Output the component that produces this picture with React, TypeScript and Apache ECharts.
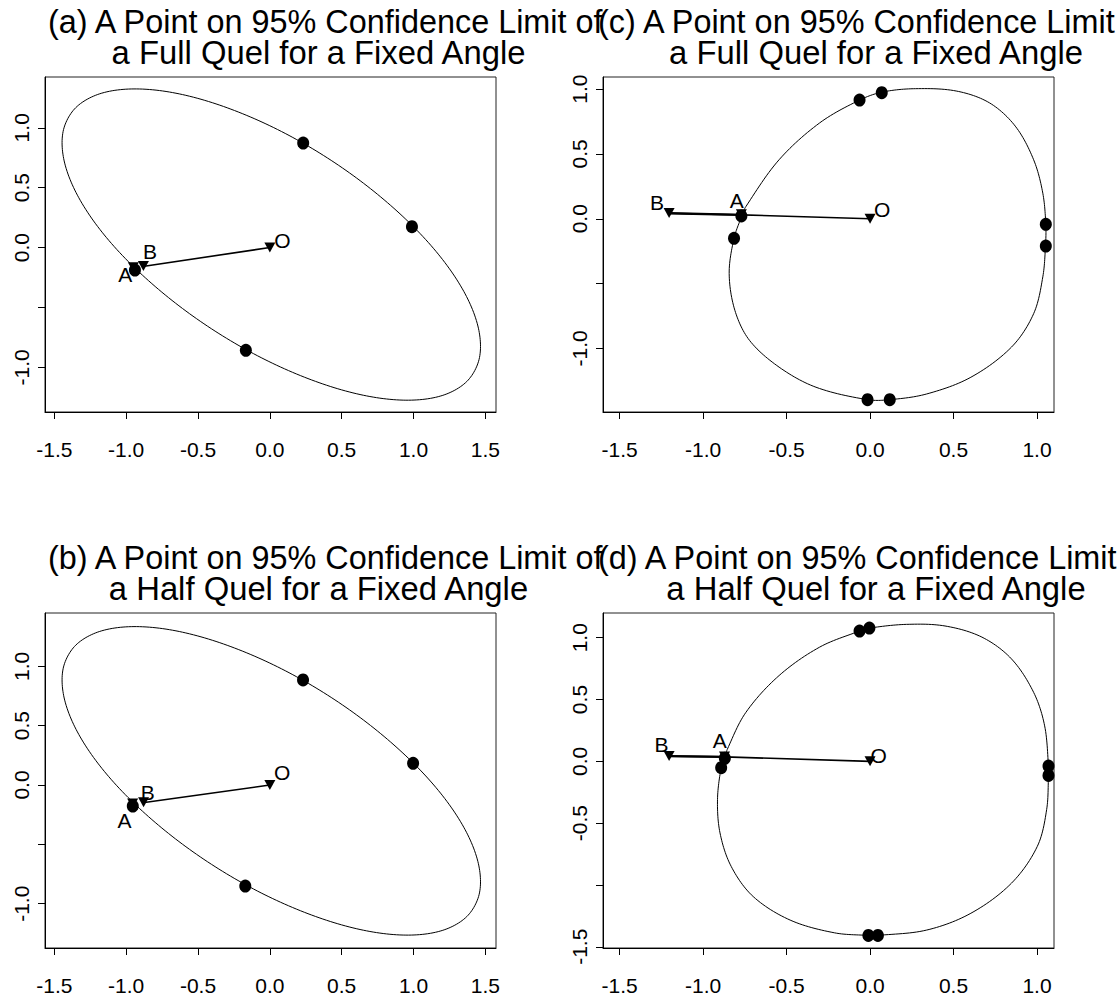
import React, { useEffect, useRef } from "react";
import * as echarts from "echarts";

type Pt = [number, number];

// ---------- data ----------
const xTicksAB = [-1.5, -1.0, -0.5, 0.0, 0.5, 1.0, 1.5];
const xLabelsAB = [-1.5, -1.0, -0.5, 0.0, 0.5, 1.0, 1.5];
const xTicksCD = [-1.5, -1.0, -0.5, 0.0, 0.5, 1.0];
const xLabelsCD = [-1.5, -1.0, -0.5, 0.0, 0.5, 1.0];
const yTicksA = [-1.0, -0.5, 0.0, 0.5, 1.0];
const yLabelsA = [-1.0, 0.0, 0.5, 1.0];
const yTicksC = [-1.0, -0.5, 0.0, 0.5, 1.0];
const yLabelsC = [-1.0, 0.0, 0.5, 1.0];
const yTicksD = [-1.5, -1.0, -0.5, 0.0, 0.5, 1.0];
const yLabelsD = [-1.5, -0.5, 0.0, 0.5, 1.0];

const titlesTop = ["(a) A Point on 95% Confidence Limit of", "a Full Quel for a Fixed Angle"];
const titlesTopRight = ["(c) A Point on 95% Confidence Limit of", "a Full Quel for a Fixed Angle"];
const titlesBottom = ["(b) A Point on 95% Confidence Limit of", "a Half Quel for a Fixed Angle"];
const titlesBottomRight = ["(d) A Point on 95% Confidence Limit of", "a Half Quel for a Fixed Angle"];

// closed confidence-limit curves (points read along each loop)
const curveA: Pt[] = [
  [1.371, -1.118], [1.459, -0.919], [1.448, -0.655], [1.34, -0.345], [1.141, -0.01],
  [0.864, 0.327], [0.53, 0.644], [0.16, 0.919], [-0.22, 1.132], [-0.585, 1.271],
  [-0.908, 1.324], [-1.17, 1.289], [-1.351, 1.168], [-1.439, 0.969], [-1.428, 0.705],
  [-1.32, 0.395], [-1.121, 0.06], [-0.844, -0.277], [-0.51, -0.594], [-0.14, -0.869],
  [0.24, -1.082], [0.605, -1.221], [0.928, -1.274], [1.19, -1.239],
];
const dotsA: Pt[] = [[0.232, 0.872], [0.989, 0.174], [-0.167, -0.858], [-0.939, -0.188]];
const trianglesA: Pt[] = [[0, 0], [-0.88, -0.155], [-0.95, -0.165]];
const segmentA: Pt[] = [[0, 0], [-0.885, -0.158]];
const pointNamesA = ["A", "B", "O"];
const labelPosA: Pt[] = [[-1.007, -0.222], [-0.835, -0.032], [0.087, 0.06]];

const curveB: Pt[] = [
  [1.371, -1.108], [1.459, -0.909], [1.448, -0.645], [1.34, -0.335], [1.141, 0.0],
  [0.864, 0.337], [0.53, 0.654], [0.16, 0.929], [-0.22, 1.142], [-0.585, 1.281],
  [-0.908, 1.334], [-1.17, 1.299], [-1.351, 1.178], [-1.439, 0.979], [-1.428, 0.715],
  [-1.32, 0.405], [-1.121, 0.07], [-0.844, -0.267], [-0.51, -0.584], [-0.14, -0.859],
  [0.24, -1.072], [0.605, -1.211], [0.928, -1.264], [1.19, -1.229],
];
const dotsB: Pt[] = [[0.231, 0.885], [0.997, 0.183], [-0.171, -0.851], [-0.954, -0.177]];
const trianglesB: Pt[] = [[0, 0], [-0.879, -0.145], [-0.955, -0.155]];
const segmentB: Pt[] = [[0, 0], [-0.885, -0.15]];
const pointNamesB = ["A", "B", "O"];
const labelPosB: Pt[] = [[-1.012, -0.295], [-0.849, -0.062], [0.085, 0.104]];

const curveC: Pt[] = [
  [0.273, 1.003], [0.516, 0.985], [0.715, 0.894], [0.87, 0.714], [0.98, 0.455],
  [1.035, 0.197], [1.053, -0.048], [1.051, -0.21], [1.035, -0.448], [0.98, -0.732],
  [0.847, -0.99], [0.604, -1.222], [0.339, -1.351], [0.118, -1.395], [-0.015, -1.395],
  [-0.324, -1.299], [-0.545, -1.144], [-0.722, -0.938], [-0.81, -0.706], [-0.844, -0.422],
  [-0.815, -0.151], [-0.768, 0.022], [-0.744, 0.094], [-0.545, 0.455], [-0.302, 0.739],
  [-0.063, 0.915], [0.074, 0.977],
];
const dotsC: Pt[] = [
  [0.07, 0.972], [-0.063, 0.915], [-0.771, 0.022], [-0.815, -0.151],
  [-0.015, -1.395], [0.118, -1.395], [1.053, -0.043], [1.053, -0.211],
];
const trianglesC: Pt[] = [[0, 0], [-1.204, 0.044], [-0.771, 0.035]];
const segmentC: Pt[] = [[0, 0], [-0.771, 0.03], [-1.204, 0.042]];
const pointNamesC = ["B", "A", "O"];
const labelPosC: Pt[] = [[-1.277, 0.125], [-0.799, 0.141], [0.072, 0.068]];

const curveD: Pt[] = [
  [0.218, 1.108], [0.449, 1.095], [0.67, 1.005], [0.847, 0.829], [0.98, 0.558],
  [1.046, 0.287], [1.069, -0.038], [1.069, -0.114], [1.058, -0.39], [1.002, -0.688],
  [0.847, -0.986], [0.604, -1.229], [0.339, -1.365], [0.047, -1.408], [-0.01, -1.408],
  [-0.214, -1.387], [-0.479, -1.284], [-0.7, -1.094], [-0.832, -0.85], [-0.899, -0.579],
  [-0.914, -0.309], [-0.892, -0.051], [-0.87, 0.025], [-0.855, 0.098], [-0.744, 0.396],
  [-0.545, 0.694], [-0.302, 0.924], [-0.063, 1.054], [-0.004, 1.078],
];
const dotsD: Pt[] = [
  [-0.004, 1.078], [-0.063, 1.054], [-0.87, 0.025], [-0.892, -0.051],
  [-0.01, -1.408], [0.047, -1.408], [1.069, -0.114], [1.069, -0.038],
];
const trianglesD: Pt[] = [[0, 0], [-1.204, 0.044], [-0.872, 0.04]];
const segmentD: Pt[] = [[0, 0], [-0.872, 0.036], [-1.204, 0.042]];
const pointNamesD = ["B", "A", "O"];
const labelPosD: Pt[] = [[-1.25, 0.133], [-0.901, 0.166], [0.052, 0.044]];

// ---------- layout ----------
const FONT = "'Liberation Sans', Arial, Helvetica, sans-serif";

interface Panel {
  grid: { left: number; top: number; width: number; height: number };
  xMin: number; xMax: number; yMin: number; yMax: number;
  xTicks: number[]; xLabels: number[]; yTicks: number[]; yLabels: number[];
  curve: Pt[]; dots: Pt[]; triangles: Pt[]; segment: Pt[];
  names: string[]; labelPos: Pt[]; thickTail: boolean;
  titles: string[]; title1Left: number; title2Center: number; titleY: [number, number];
}

const panels: Panel[] = [
  {
    grid: { left: 45, top: 77, width: 451, height: 335 },
    xMin: -1.565, xMax: 1.574, yMin: -1.373, yMax: 1.424,
    xTicks: xTicksAB, xLabels: xLabelsAB, yTicks: yTicksA, yLabels: yLabelsA,
    curve: curveA, dots: dotsA, triangles: trianglesA, segment: segmentA,
    names: pointNamesA, labelPos: labelPosA, thickTail: false,
    titles: titlesTop, title1Left: 48, title2Center: 318.5, titleY: [22, 52],
  },
  {
    grid: { left: 603, top: 77, width: 451, height: 335 },
    xMin: -1.6, xMax: 1.102, yMin: -1.49, yMax: 1.093,
    xTicks: xTicksCD, xLabels: xLabelsCD, yTicks: yTicksC, yLabels: yLabelsC,
    curve: curveC, dots: dotsC, triangles: trianglesC, segment: segmentC,
    names: pointNamesC, labelPos: labelPosC, thickTail: true,
    titles: titlesTopRight, title1Left: 598, title2Center: 876, titleY: [22, 52],
  },
  {
    grid: { left: 45, top: 613, width: 451, height: 335 },
    xMin: -1.565, xMax: 1.574, yMin: -1.373, yMax: 1.449,
    xTicks: xTicksAB, xLabels: xLabelsAB, yTicks: yTicksA, yLabels: yLabelsA,
    curve: curveB, dots: dotsB, triangles: trianglesB, segment: segmentB,
    names: pointNamesB, labelPos: labelPosB, thickTail: false,
    titles: titlesBottom, title1Left: 48, title2Center: 318.5, titleY: [558, 588],
  },
  {
    grid: { left: 603, top: 613, width: 451, height: 335 },
    xMin: -1.6, xMax: 1.102, yMin: -1.51, yMax: 1.2,
    xTicks: xTicksCD, xLabels: xLabelsCD, yTicks: yTicksD, yLabels: yLabelsD,
    curve: curveD, dots: dotsD, triangles: trianglesD, segment: segmentD,
    names: pointNamesD, labelPos: labelPosD, thickTail: true,
    titles: titlesBottomRight, title1Left: 598, title2Center: 876, titleY: [558, 588],
  },
];

const fmt = (v: number) => (Math.abs(v) < 1e-9 ? "0.0" : v.toFixed(1));

// smooth closed curve through pixel points (cubic Hermite / Bezier rendering)
function smoothClosed(pts: number[][], samples: number): number[][] {
  const n = pts.length;
  const dist = (a: number[], b: number[]) => Math.hypot(b[0] - a[0], b[1] - a[1]);
  const tangents = pts.map((p, i) => {
    const prev = pts[(i - 1 + n) % n];
    const next = pts[(i + 1) % n];
    const s = dist(prev, p) + dist(p, next) || 1;
    return [(next[0] - prev[0]) / s, (next[1] - prev[1]) / s];
  });
  const out: number[][] = [];
  for (let i = 0; i < n; i++) {
    const p0 = pts[i];
    const p1 = pts[(i + 1) % n];
    const h = dist(p0, p1);
    const t0 = tangents[i];
    const t1 = tangents[(i + 1) % n];
    const c0 = [p0[0] + (t0[0] * h) / 3, p0[1] + (t0[1] * h) / 3];
    const c1 = [p1[0] - (t1[0] * h) / 3, p1[1] - (t1[1] * h) / 3];
    for (let k = 0; k < samples; k++) {
      const t = k / samples;
      const u = 1 - t;
      out.push([
        u * u * u * p0[0] + 3 * u * u * t * c0[0] + 3 * u * t * t * c1[0] + t * t * t * p1[0],
        u * u * u * p0[1] + 3 * u * u * t * c0[1] + 3 * u * t * t * c1[1] + t * t * t * p1[1],
      ]);
    }
  }
  out.push(out[0]);
  return out;
}

function buildOption() {
  const grids: any[] = [];
  const xAxes: any[] = [];
  const yAxes: any[] = [];
  const series: any[] = [];
  const graphics: any[] = [];

  panels.forEach((p, i) => {
    grids.push({
      ...p.grid,
      show: true,
      borderColor: "#222",
      borderWidth: 1,
      backgroundColor: "transparent",
      containLabel: false,
    });
    xAxes.push({
      type: "value",
      gridIndex: i,
      min: p.xMin,
      max: p.xMax,
      position: "bottom",
      axisLine: { show: true, onZero: false, lineStyle: { color: "#000", width: 1 } },
      axisTick: { show: true, length: 7, inside: false, customValues: p.xTicks, lineStyle: { color: "#000", width: 1 } },
      axisLabel: {
        show: true, customValues: p.xLabels, margin: 27, fontSize: 21, color: "#000",
        fontFamily: FONT, formatter: fmt, hideOverlap: false,
      },
      splitLine: { show: false },
    });
    yAxes.push({
      type: "value",
      gridIndex: i,
      min: p.yMin,
      max: p.yMax,
      position: "left",
      axisLine: { show: true, onZero: false, lineStyle: { color: "#000", width: 1 } },
      axisTick: { show: true, length: 7, inside: false, customValues: p.yTicks, lineStyle: { color: "#000", width: 1 } },
      axisLabel: {
        show: true, customValues: p.yLabels, margin: 13, fontSize: 21, color: "#000", rotate: 90,
        fontFamily: FONT, formatter: fmt, hideOverlap: false,
      },
      splitLine: { show: false },
    });

    const curve = p.curve;
    series.push({
      type: "custom", xAxisIndex: i, yAxisIndex: i, data: [curve[0]], clip: false, silent: true,
      renderItem: (_params: any, api: any) => {
        const px = curve.map((c) => api.coord(c));
        return {
          type: "polyline",
          shape: { points: smoothClosed(px, 14) },
          style: { stroke: "#000", lineWidth: 1, fill: "none" },
          silent: true,
        };
      },
    });
    series.push({
      type: "line", xAxisIndex: i, yAxisIndex: i, data: p.segment, smooth: false,
      showSymbol: false, symbol: "none", lineStyle: { color: "#000", width: 1.6 }, silent: true,
    });
    if (p.thickTail) {
      series.push({
        type: "line", xAxisIndex: i, yAxisIndex: i, data: p.segment.slice(1), smooth: false,
        showSymbol: false, symbol: "none", lineStyle: { color: "#000", width: 2.4 }, silent: true,
      });
    }
    series.push({
      type: "scatter", xAxisIndex: i, yAxisIndex: i, data: p.triangles,
      symbol: "triangle", symbolRotate: 180, symbolSize: [11, 10],
      itemStyle: { color: "#000", opacity: 1 }, silent: true,
    });
    series.push({
      type: "scatter", xAxisIndex: i, yAxisIndex: i, data: p.dots,
      symbol: "circle", symbolSize: [12, 13], itemStyle: { color: "#000", opacity: 1 }, silent: true,
    });
    series.push({
      type: "scatter", xAxisIndex: i, yAxisIndex: i,
      data: p.labelPos.map((pt, k) => ({ value: pt, name: p.names[k] })),
      symbolSize: 0, silent: true, itemStyle: { opacity: 1 },
      label: {
        show: true, position: "inside", formatter: "{b}", fontSize: 21, color: "#000",
        fontFamily: FONT, opacity: 1,
      },
    });

    graphics.push({
      type: "text",
      x: p.title1Left,
      y: p.titleY[0],
      style: { text: p.titles[0], fontSize: 32.4, fontFamily: FONT, fill: "#000", textAlign: "left", textVerticalAlign: "middle" },
      silent: true,
    });
    graphics.push({
      type: "text",
      x: p.title2Center,
      y: p.titleY[1],
      style: { text: p.titles[1], fontSize: 32.8, fontFamily: FONT, fill: "#000", textAlign: "center", textVerticalAlign: "middle" },
      silent: true,
    });
  });

  return {
    animation: false,
    backgroundColor: "#fff",
    grid: grids,
    xAxis: xAxes,
    yAxis: yAxes,
    series,
    graphic: graphics,
  };
}

export default function App() {
  const ref = useRef<HTMLDivElement>(null);
  useEffect(() => {
    document.body.style.margin = "0";
    const chart = echarts.init(ref.current!, null, { renderer: "svg" });
    chart.setOption(buildOption() as any);
    return () => chart.dispose();
  }, []);
  return <div ref={ref} style={{ width: 1118, height: 998 }} />;
}
